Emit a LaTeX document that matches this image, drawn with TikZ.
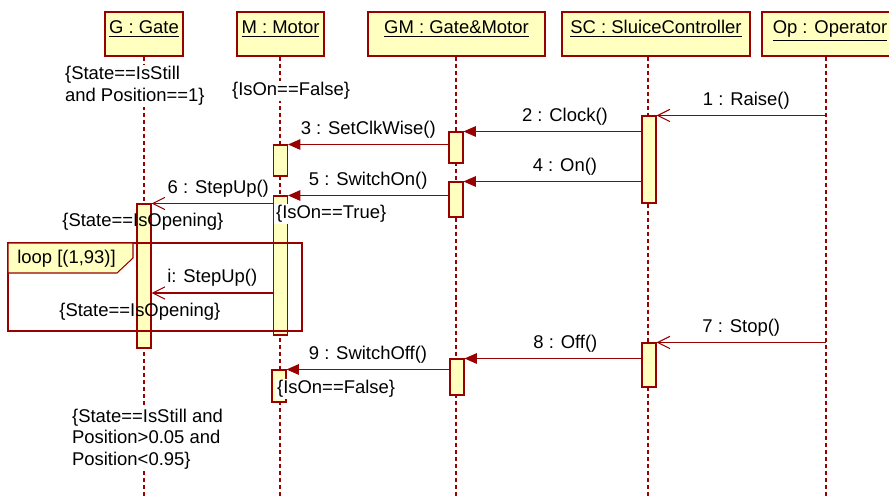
\documentclass[tikz,border=0pt]{standalone}
\usepackage{fontspec}
\setmainfont{Liberation Sans}
\usetikzlibrary{arrows.meta}
\usetikzlibrary{positioning}
\definecolor{umlred}{HTML}{990000}
\definecolor{umlfill}{HTML}{FFFFC0}
\tikzset{basic/.style={draw=umlred,fill=umlfill,line width=0.6pt}}
\tikzset{object/.style={basic,rectangle,minimum height=0.88cm,inner sep=0pt,text height=0.75em,text depth=0.78em}}
\tikzset{bar/.style={basic,rectangle,minimum width=0.28cm,inner sep=0pt}}

\begin{document}
\begin{tikzpicture}[x=0.02cm,y=-0.02cm,
    font=\fontsize{10.5}{12.3}\selectfont,
    life/.style={draw=umlred,line width=0.6pt,dash pattern=on 2.3pt off 1.7pt},
    call/.style={draw=umlred,line width=0.6pt,-{Triangle[length=7pt,width=6pt,fill=umlred]}},
    signal/.style={draw=umlred,line width=0.6pt,-{Straight Barb[length=7pt,width=7pt]}},
    note/.style={anchor=west,inner sep=0pt,align=left},
    blank/.style={note,fill=white,inner sep=1pt},
    ]
    \useasboundingbox (0,0) rectangle (889,497);

    % Objects
    \node[object,minimum width=1.56cm] (g) at (144,34) {\underline{G : Gate}};
    \node[object,minimum width=1.74cm] (m) at (280.5,34) {\underline{M : Motor}};
    \node[object,minimum width=3.54cm] (gm) at (456.5,34) {\underline{GM : Gate\&Motor}};
    \node[object,minimum width=3.76cm] (sc) at (656,34) {\underline{SC : SluiceController}};
    \node[object,minimum width=2.72cm] (op) at (830,34) {\underline{Op : Operator}};

    % Lifelines
    \coordinate (gEnd) at (144,497);
    \coordinate (mEnd) at (280,497);
    \coordinate (gmEnd) at (456,497);
    \coordinate (scEnd) at (648,497);
    \coordinate (opEnd) at (826,497);
    \draw[life] (g.south -| gEnd) -- (gEnd);
    \draw[life] (m.south -| mEnd) -- (mEnd);
    \draw[life] (gm.south -| gmEnd) -- (gmEnd);
    \draw[life] (sc.south -| scEnd) -- (scEnd);
    \draw[life] (op.south -| opEnd) -- (opEnd);

    % Activations
    \node[bar,minimum height=1.74cm] (scA) at (649,159.5) {};
    \node[bar,minimum height=0.88cm] (scB) at (649,365) {};
    \node[bar,minimum height=0.62cm] (gmA) at (456,147.5) {};
    \node[bar,minimum height=0.70cm] (gmB) at (456,199.5) {};
    \node[bar,minimum height=0.72cm] (gmC) at (457,377) {};
    \node[bar,minimum height=0.62cm] (mA) at (280.5,160.5) {};
    \node[bar,minimum height=2.78cm] (mB) at (280.5,265.5) {};
    \node[bar,minimum height=0.64cm] (mC) at (279,386) {};
    \node[bar,minimum height=2.88cm] (gA) at (144,276) {};

    % Loop fragment
    \coordinate (loopNW) at (8,243);
    \coordinate (loopSE) at (302,331);
    \draw[umlred,line width=0.6pt] (loopNW) rectangle (loopSE);
    \filldraw[basic] (loopNW) -- (133,243) -- (133,258) -- (117,273) -- (8,273) -- cycle;
    \node[note] (loopLbl) at (17,259) {loop [(1,93)]};

    % Messages
    \draw[signal] (opEnd |- scA.north) -- node[above,pos=0.47] {1 : Raise()} (scA.north east);
    \draw[call] (scA.west |- gmA.north) -- node[above,pos=0.43] {2 : Clock()} (gmA.north east);
    \draw[call] (gmA.west |- mA.north) -- node[above] {3 : SetClkWise()} (mA.north east);
    \draw[call] (scA.west |- gmB.north) -- node[above,pos=0.43] {4 : On()} (gmB.north east);
    \draw[call] (gmB.west |- mB.north) -- node[above] {5 : SwitchOn()} (mB.north east);
    \draw[signal] (mB.west |- gA.north) -- node[above,pos=0.45] {6 : StepUp()} (gA.north east);
    \coordinate (iCall) at (280,293);
    \draw[signal] (mB.west |- iCall) -- node[above] {i: StepUp()} (gA.east |- iCall);
    \draw[signal] (opEnd |- scB.north) -- node[above] {7 : Stop()} (scB.north east);
    \draw[call] (scB.west |- gmC.north) -- node[above,pos=0.43] {8 : Off()} (gmC.north east);
    \draw[call] (gmC.west |- mC.north) -- node[above] {9 : SwitchOff()} (mC.north east);

    % Constraints
    \node[blank] (gStart) at (63,86) {\{State==IsStill\\and Position==1\}};
    \node[blank] (mOff) at (230,91) {\{IsOn==False\}};
    \node[blank] (mOn) at (274,214) {\{IsOn==True\}};
    \node[note] (gOpen) at (62,222) {\{State==IsOpening\}};
    \node[note] (gLoop) at (59,312) {\{State==IsOpening\}};
    \node[blank] (mOffEnd) at (275,389) {\{IsOn==False\}};
    \node[blank] (gEndState) at (70,439) {\{State==IsStill and\\Position>0.05 and\\Position<0.95\}};

\end{tikzpicture}
\end{document}
